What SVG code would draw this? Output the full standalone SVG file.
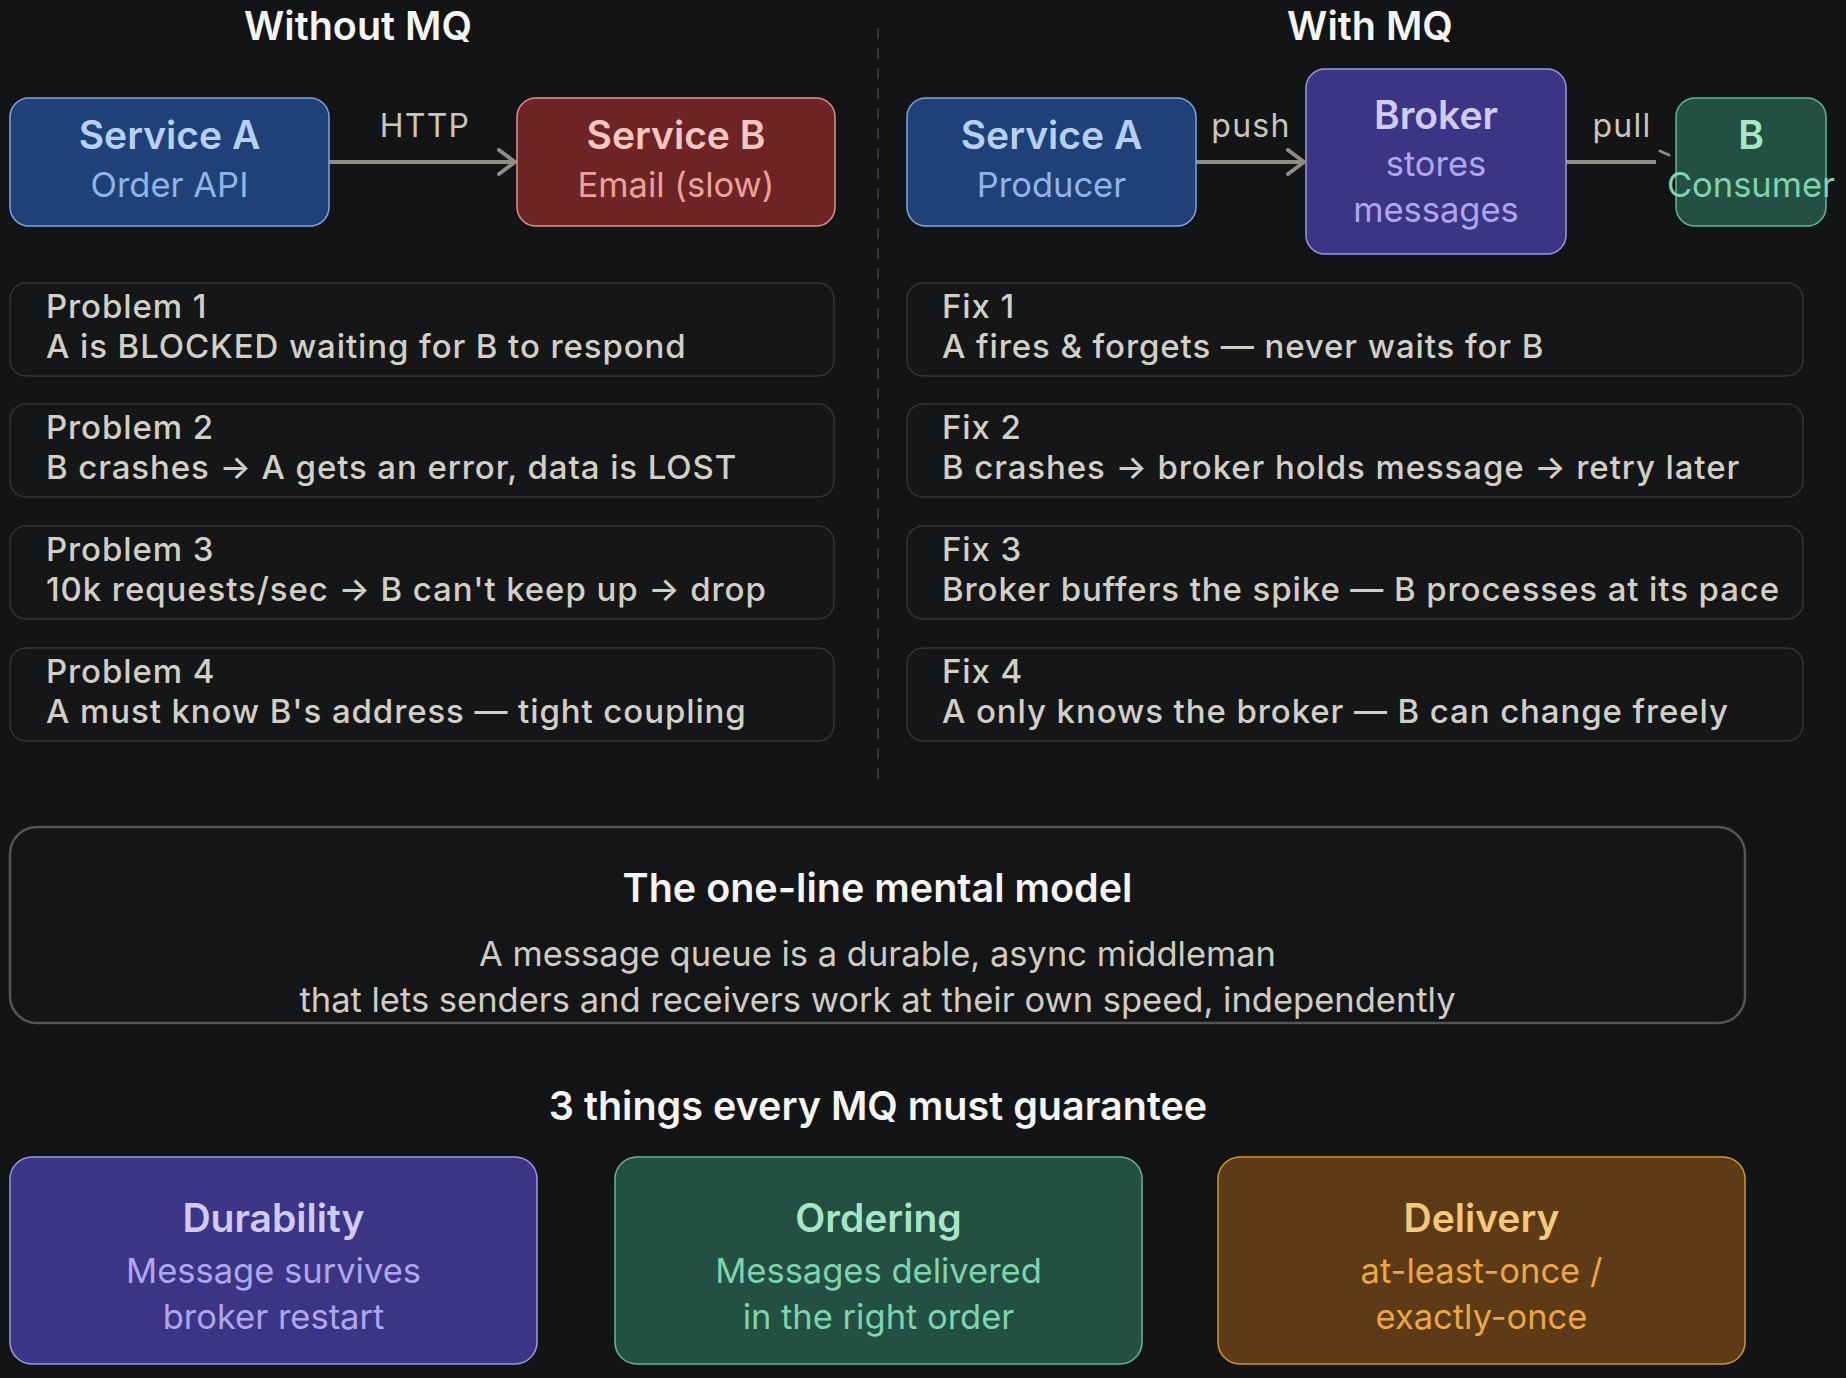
<svg xmlns="http://www.w3.org/2000/svg" width="1846" height="1378" viewBox="0 0 1846 1378">
  <defs>
    <style>
      text { font-family: Inter, "Noto Sans", "Liberation Sans", sans-serif; }
      .h { font-size: 39.5px; font-weight: 600; fill: #f4f4f2; text-anchor: middle; }
      .nt { font-size: 39px; font-weight: 600; text-anchor: middle; }
      .ns { font-size: 34.5px; font-weight: 400; text-anchor: middle; }
      .lbl { font-size: 32px; letter-spacing: 1.3px; fill: #c9c6bc; text-anchor: middle; }
      .card { fill: #151617; stroke: #333435; stroke-width: 1.5; }
      .ct { font-size: 33px; letter-spacing: 0.9px; font-weight: 450; fill: #d2cfc6; }
      .body { font-size: 34.5px; fill: #cfccc3; text-anchor: middle; }
      .conn { stroke: #8e8c85; stroke-width: 4; fill: none; }
      .blue { fill: #1f4177; stroke: #7ea6dd; stroke-width: 1.5; }
      .red { fill: #6e2424; stroke: #e0918a; stroke-width: 1.5; }
      .purple { fill: #3c3585; stroke: #9e96e2; stroke-width: 1.5; }
      .green { fill: #235042; stroke: #61b893; stroke-width: 1.5; }
      .amber { fill: #5d3b16; stroke: #d6942f; stroke-width: 1.5; }
    </style>
    <marker id="arr" viewBox="0 0 20 28" refX="18" refY="14" markerWidth="20" markerHeight="28" markerUnits="userSpaceOnUse" orient="auto">
      <path d="M2,2 L18,14 L2,26" fill="none" stroke="#8e8c85" stroke-width="4" stroke-linecap="round" stroke-linejoin="round"/>
    </marker>
  </defs>
  <rect x="0" y="0" width="1846" height="1378" fill="#131415"/>

  <text class="h" x="358" y="40">Without MQ</text>
  <text class="h" x="1370" y="40">With MQ</text>
  <line x1="878" y1="28" x2="878" y2="782" stroke="#333435" stroke-width="2" stroke-dasharray="11 9"/>

  <g id="connectors">
    <line class="conn" x1="329" y1="162" x2="515" y2="162" marker-end="url(#arr)"/>
    <text class="lbl" x="425" y="137">HTTP</text>
    <line class="conn" x1="1196" y1="162" x2="1304" y2="162" marker-end="url(#arr)"/>
    <text class="lbl" x="1251" y="137">push</text>
    <line class="conn" x1="1566" y1="162" x2="1656" y2="162"/>
    <line x1="1660" y1="151" x2="1669" y2="155" stroke="#8e8c85" stroke-width="3" stroke-linecap="round"/>
    <text class="lbl" x="1622" y="137">pull</text>
  </g>

  <g id="svcA-left">
    <rect class="blue" x="10" y="98" width="319" height="128" rx="19"/>
    <text class="nt" x="169.5" y="149" fill="#b5cff5">Service A</text>
    <text class="ns" x="169.5" y="197" fill="#8fb4ea">Order API</text>
  </g>
  <g id="svcB-left">
    <rect class="red" x="517" y="98" width="318" height="128" rx="19"/>
    <text class="nt" x="676" y="149" fill="#f6c6c1">Service B</text>
    <text class="ns" x="676" y="197" fill="#eba29b">Email (slow)</text>
  </g>
  <g id="svcA-right">
    <rect class="blue" x="907" y="98" width="289" height="128" rx="19"/>
    <text class="nt" x="1051.5" y="149" fill="#b5cff5">Service A</text>
    <text class="ns" x="1051.5" y="197" fill="#8fb4ea">Producer</text>
  </g>
  <g id="broker">
    <rect class="purple" x="1306" y="69" width="260" height="185" rx="19"/>
    <text class="nt" x="1436" y="129" fill="#d0cbf6">Broker</text>
    <text class="ns" x="1436" y="176" fill="#aea6ee">stores</text>
    <text class="ns" x="1436" y="222" fill="#aea6ee">messages</text>
  </g>
  <g id="consumer">
    <rect class="green" x="1676" y="98" width="150" height="128" rx="19"/>
    <text class="nt" x="1751" y="149" fill="#a6e6c9">B</text>
    <text class="ns" x="1751" y="197" fill="#7fd3ae">Consumer</text>
  </g>

  <g id="problem1">
    <rect class="card" x="10" y="283" width="824" height="93" rx="16"/>
    <text class="ct" x="46" y="318">Problem 1</text>
    <text class="ct" x="46" y="358">A is BLOCKED waiting for B to respond</text>
  </g>
  <g id="problem2">
    <rect class="card" x="10" y="404" width="824" height="93" rx="16"/>
    <text class="ct" x="46" y="439">Problem 2</text>
    <text class="ct" x="46" y="479">B crashes → A gets an error, data is LOST</text>
  </g>
  <g id="problem3">
    <rect class="card" x="10" y="526" width="824" height="93" rx="16"/>
    <text class="ct" x="46" y="561">Problem 3</text>
    <text class="ct" x="46" y="601">10k requests/sec → B can't keep up → drop</text>
  </g>
  <g id="problem4">
    <rect class="card" x="10" y="648" width="824" height="93" rx="16"/>
    <text class="ct" x="46" y="683">Problem 4</text>
    <text class="ct" x="46" y="723">A must know B's address — tight coupling</text>
  </g>

  <g id="fix1">
    <rect class="card" x="907" y="283" width="896" height="93" rx="16"/>
    <text class="ct" x="942" y="318">Fix 1</text>
    <text class="ct" x="942" y="358">A fires &amp; forgets — never waits for B</text>
  </g>
  <g id="fix2">
    <rect class="card" x="907" y="404" width="896" height="93" rx="16"/>
    <text class="ct" x="942" y="439">Fix 2</text>
    <text class="ct" x="942" y="479">B crashes → broker holds message → retry later</text>
  </g>
  <g id="fix3">
    <rect class="card" x="907" y="526" width="896" height="93" rx="16"/>
    <text class="ct" x="942" y="561">Fix 3</text>
    <text class="ct" x="942" y="601">Broker buffers the spike — B processes at its pace</text>
  </g>
  <g id="fix4">
    <rect class="card" x="907" y="648" width="896" height="93" rx="16"/>
    <text class="ct" x="942" y="683">Fix 4</text>
    <text class="ct" x="942" y="723">A only knows the broker — B can change freely</text>
  </g>

  <g id="mental-model">
    <rect x="10" y="827" width="1735" height="196" rx="27" fill="#141516" stroke="#555553" stroke-width="2.5"/>
    <text class="h" x="877.5" y="902">The one-line mental model</text>
    <text class="body" x="877.5" y="966">A message queue is a durable, async middleman</text>
    <text class="body" x="877.5" y="1012">that lets senders and receivers work at their own speed, independently</text>
  </g>

  <text class="h" x="878" y="1120">3 things every MQ must guarantee</text>

  <g id="durability">
    <rect class="purple" x="10" y="1157" width="527" height="207" rx="22"/>
    <text class="nt" x="273.5" y="1232" fill="#d0cbf6">Durability</text>
    <text class="ns" x="273.5" y="1283" fill="#aea6ee">Message survives</text>
    <text class="ns" x="273.5" y="1329" fill="#aea6ee">broker restart</text>
  </g>
  <g id="ordering">
    <rect class="green" x="615" y="1157" width="527" height="207" rx="22"/>
    <text class="nt" x="878.5" y="1232" fill="#a6e6c9">Ordering</text>
    <text class="ns" x="878.5" y="1283" fill="#7fd3ae">Messages delivered</text>
    <text class="ns" x="878.5" y="1329" fill="#7fd3ae">in the right order</text>
  </g>
  <g id="delivery">
    <rect class="amber" x="1218" y="1157" width="527" height="207" rx="22"/>
    <text class="nt" x="1481.5" y="1232" fill="#f5c97a">Delivery</text>
    <text class="ns" x="1481.5" y="1283" fill="#eba645">at-least-once /</text>
    <text class="ns" x="1481.5" y="1329" fill="#eba645">exactly-once</text>
  </g>
</svg>
